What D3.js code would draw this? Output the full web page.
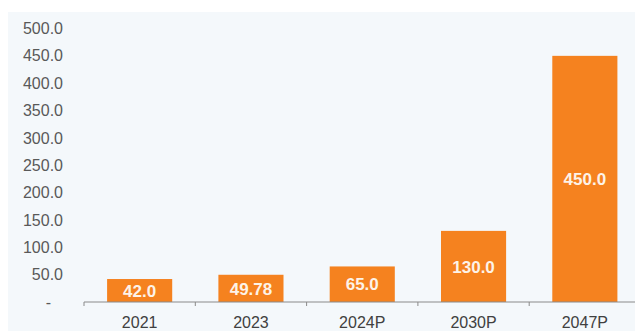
<!DOCTYPE html>
<html>
<head>
<meta charset="utf-8">
<script src="https://cdn.jsdelivr.net/npm/d3@7"></script>
<style>
  body { margin: 0; background: #fff; }
  svg { display: block; }
</style>
</head>
<body>
<div id="chart"></div>
<script>
// 数据
const years = ['2021', '2023', '2024P', '2030P', '2047P'];
const values = [42.0, 49.78, 65.0, 130.0, 450.0];
const valueLabels = ['42.0', '49.78', '65.0', '130.0', '450.0'];
const yTicks = [0, 50, 100, 150, 200, 250, 300, 350, 400, 450, 500];

const width = 635, height = 331;
const barColor = '#f5821f';

const svg = d3.select('#chart').append('svg')
    .attr('width', width)
    .attr('height', height);

// 背景面板
svg.append('rect')
    .attr('x', 8).attr('y', 12)
    .attr('width', width - 8).attr('height', height - 12)
    .attr('fill', '#f4f8fb');

const x = d3.scaleBand()
    .domain(years)
    .range([84, 84 + 111.3 * years.length])
    .paddingInner(0.415)
    .paddingOuter(0.2075);

const y = d3.scaleLinear()
    .domain([0, 500])
    .range([302, 28.5]);

// y轴
const yAxis = svg.append('g')
    .attr('transform', 'translate(66,0)')
    .call(d3.axisLeft(y)
        .tickValues(yTicks)
        .tickSize(0)
        .tickPadding(3)
        .tickFormat(d => d === 0 ? '-' : d3.format('.1f')(d)));
yAxis.select('.domain').remove();
yAxis.selectAll('text')
    .style('font-family', 'Liberation Sans, Arial, sans-serif')
    .style('font-size', '16px')
    .attr('fill', '#595959')
    .attr('dx', d => d === 0 ? -12 : 0);

// 柱子
svg.selectAll('.bar')
    .data(values)
    .join('rect')
    .attr('class', 'bar')
    .attr('x', (d, i) => x(years[i]))
    .attr('y', d => y(d))
    .attr('width', x.bandwidth())
    .attr('height', d => y(0) - y(d))
    .attr('fill', barColor);

// x轴
const step = x.step();
const xAxis = svg.append('g')
    .attr('transform', `translate(0,${y(0)})`);
xAxis.append('line')
    .attr('x1', 84).attr('x2', width)
    .attr('stroke', '#8a8a8a')
    .attr('stroke-width', 1);
xAxis.selectAll('.tk')
    .data(years)
    .join('line')
    .attr('class', 'tk')
    .attr('x1', (d, i) => 84 + i * step)
    .attr('x2', (d, i) => 84 + i * step)
    .attr('y1', 0).attr('y2', 4)
    .attr('stroke', '#8a8a8a');
xAxis.selectAll('.xl')
    .data(years)
    .join('text')
    .attr('class', 'xl')
    .attr('x', d => x(d) + x.bandwidth() / 2)
    .attr('y', 26)
    .attr('text-anchor', 'middle')
    .style('font-family', 'Liberation Sans, Arial, sans-serif')
    .style('font-size', '16px')
    .attr('fill', '#404040')
    .text(d => d);

// 数值标签
svg.selectAll('.vl')
    .data(values)
    .join('text')
    .attr('class', 'vl')
    .attr('x', (d, i) => x(years[i]) + x.bandwidth() / 2)
    .attr('y', d => (y(d) + y(0)) / 2)
    .attr('dy', '0.36em')
    .attr('text-anchor', 'middle')
    .style('font-family', 'Liberation Sans, Arial, sans-serif')
    .style('font-size', '17px')
    .style('font-weight', 'bold')
    .attr('fill', '#fdf3e8')
    .text((d, i) => valueLabels[i]);
</script>
</body>
</html>
